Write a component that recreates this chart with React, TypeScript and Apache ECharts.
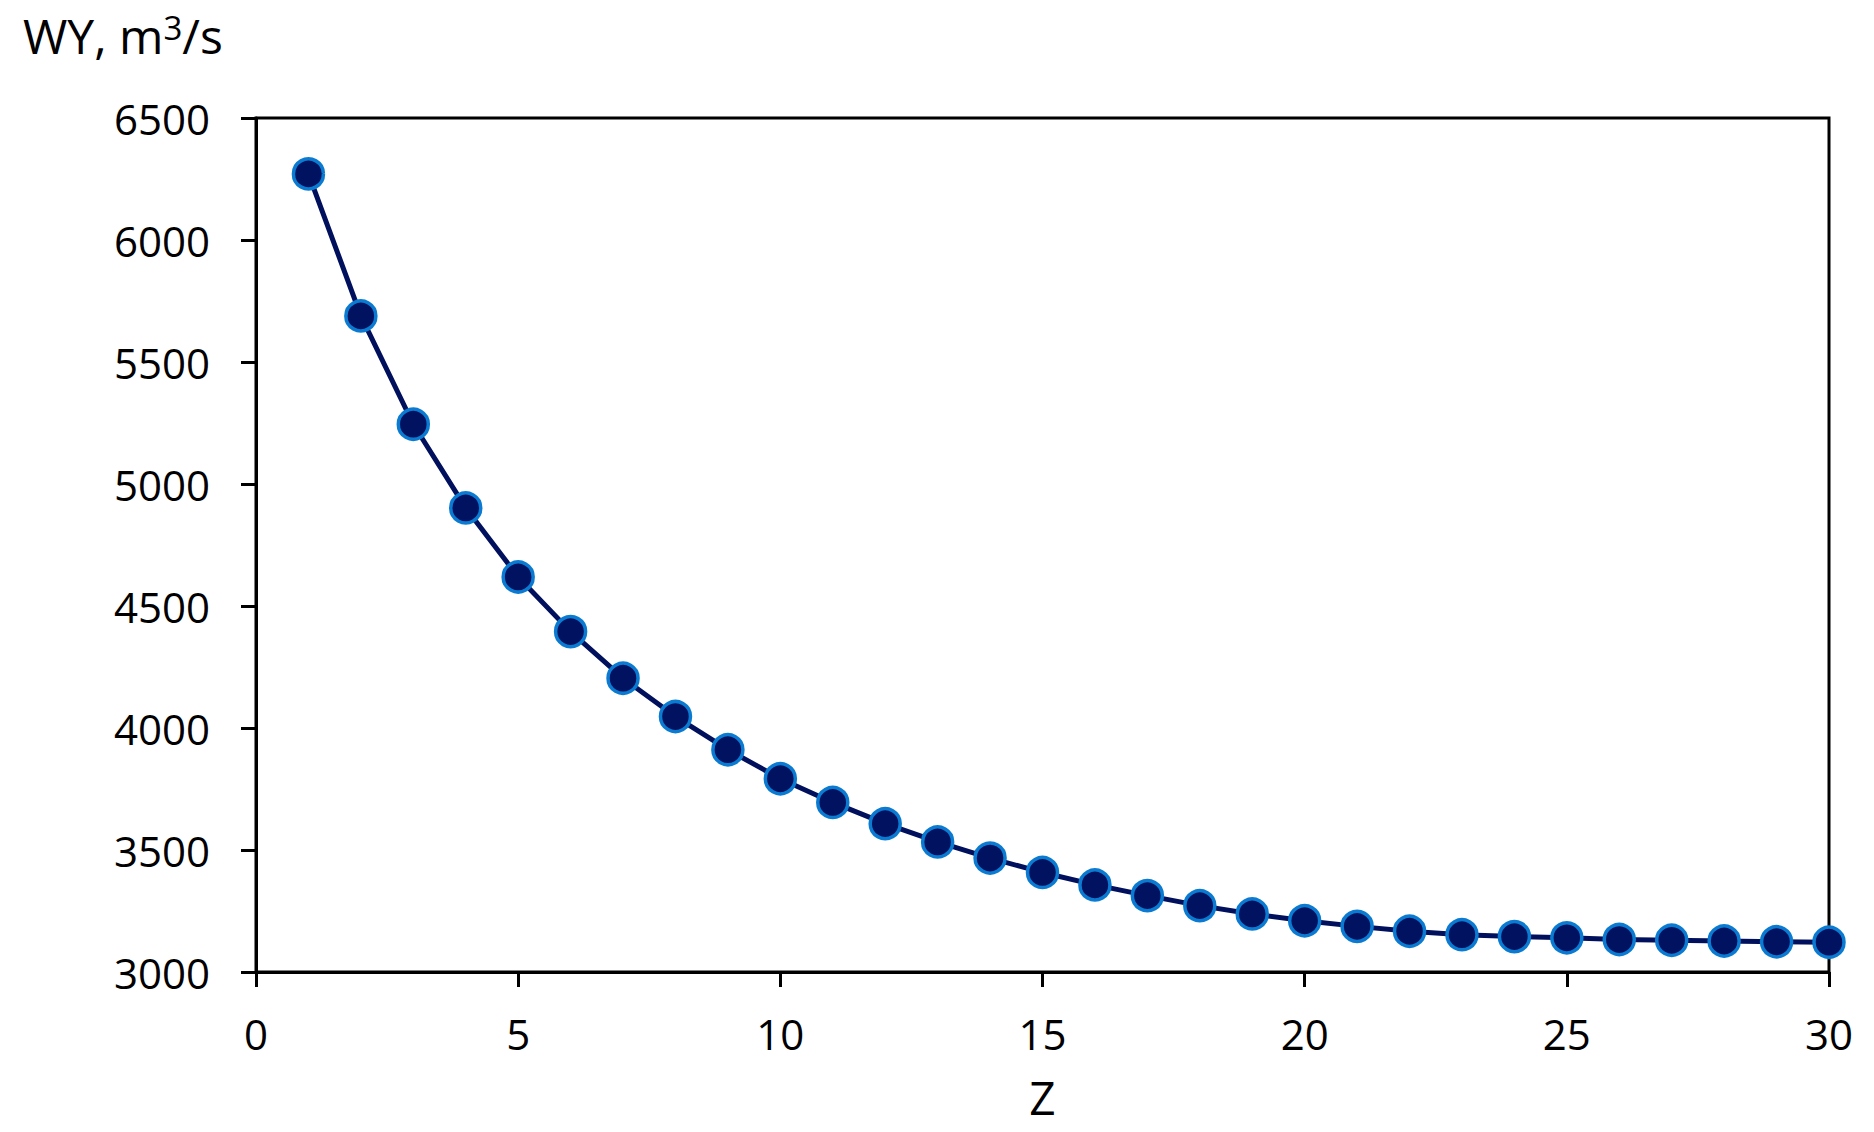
import React, { useEffect, useRef } from "react";
import * as echarts from "echarts";

const zValues = [1, 2, 3, 4, 5, 6, 7, 8, 9, 10, 11, 12, 13, 14, 15, 16, 17, 18, 19, 20, 21, 22, 23, 24, 25, 26, 27, 28, 29, 30];
const wyValues = [
  6271, 5689, 5245, 4902, 4619, 4395, 4204, 4047, 3911, 3792,
  3695, 3608, 3533, 3467, 3408, 3357, 3313, 3272, 3238, 3210,
  3187, 3167, 3153, 3145, 3140, 3133, 3130, 3127, 3124, 3122,
];
const yTicks = { min: 3000, max: 6500, interval: 500 };
const xTicks = { min: 0, max: 30, interval: 5 };
const yTitle = "WY, m{sup|3}/s";
const xTitle = "Z";

const FONT = "Open Sans";

export default function App() {
  const ref = useRef<HTMLDivElement>(null);
  useEffect(() => {
    if (!ref.current) return;
    const chart = echarts.init(ref.current, null, { renderer: "svg" });
    const axisLine = { show: true, lineStyle: { color: "#000", width: 3 } };
    const axisTick = { show: true, inside: false, length: 15, lineStyle: { color: "#000", width: 3 } };
    chart.setOption({
      animation: false,
      backgroundColor: "#fff",
      title: {
        text: yTitle,
        left: 18,
        top: 6,
        textStyle: {
          fontFamily: FONT,
          fontSize: 48,
          fontWeight: "normal",
          color: "#000",
          rich: {
            sup: { fontFamily: FONT, fontSize: 33, lineHeight: 40, verticalAlign: "top", color: "#000" },
          },
        },
      },
      grid: {
        left: 256,
        right: 45,
        top: 118,
        bottom: 160,
        show: true,
        borderColor: "#000",
        borderWidth: 3,
        containLabel: false,
      },
      xAxis: {
        type: "value",
        min: xTicks.min,
        max: xTicks.max,
        interval: xTicks.interval,
        name: xTitle,
        nameLocation: "middle",
        nameGap: 102,
        nameTextStyle: { fontFamily: FONT, fontSize: 46, color: "#000" },
        axisLine,
        axisTick,
        splitLine: { show: false },
        axisLabel: { fontFamily: FONT, fontSize: 42, color: "#000", margin: 40, formatter: (v: number) => String(v) },
      },
      yAxis: {
        type: "value",
        min: yTicks.min,
        max: yTicks.max,
        interval: yTicks.interval,
        axisLine,
        axisTick,
        splitLine: { show: false },
        axisLabel: { fontFamily: FONT, fontSize: 42, color: "#000", margin: 46, formatter: (v: number) => String(v) },
      },
      series: [
        {
          type: "line",
          data: zValues.map((z, i) => [z, wyValues[i]]),
          lineStyle: { color: "#00105C", width: 5 },
          symbol: "circle",
          symbolSize: 30,
          itemStyle: { color: "#001260", borderColor: "#0B7BD2", borderWidth: 3.5 },
          z: 5,
        },
      ],
    });
    return () => chart.dispose();
  }, []);
  return (
    <div
      ref={ref}
      style={{ position: "fixed", left: 0, top: 0, width: 1874, height: 1132, background: "#fff" }}
    />
  );
}
